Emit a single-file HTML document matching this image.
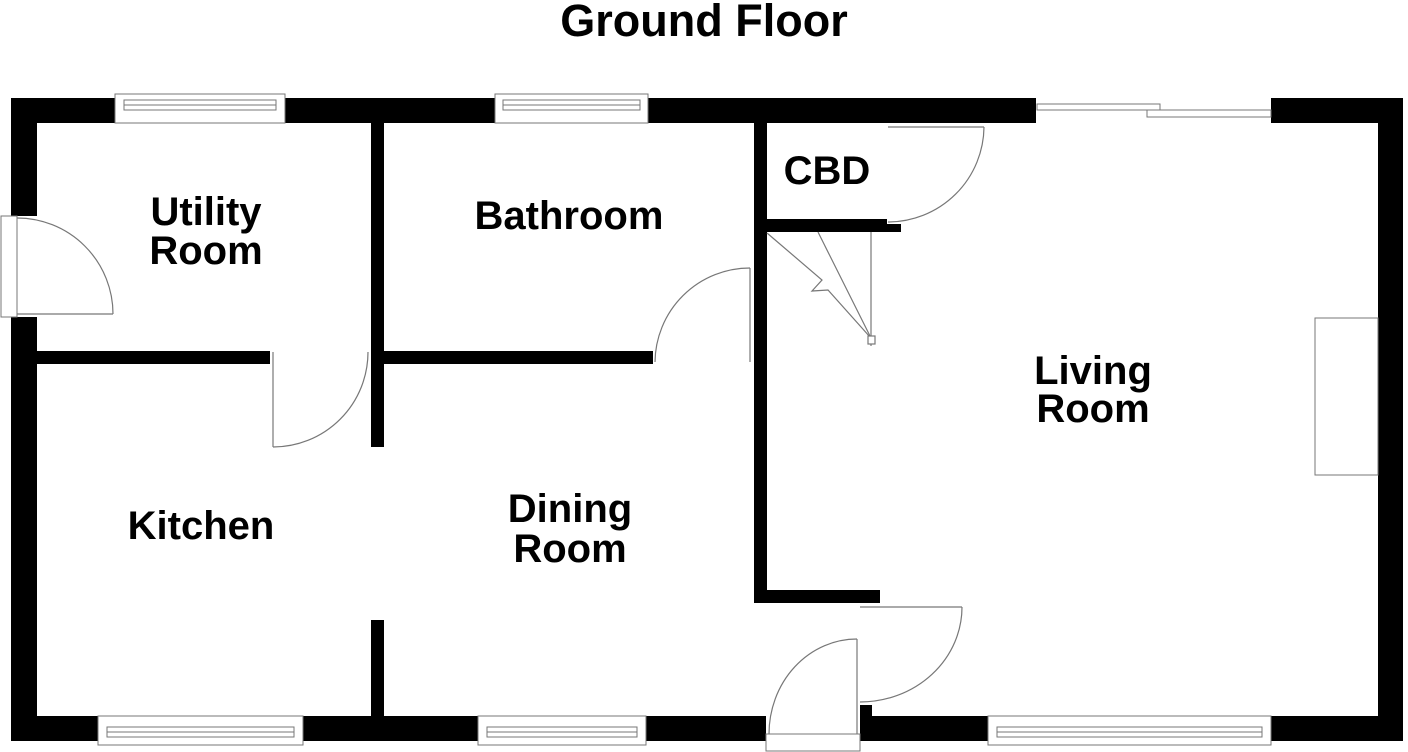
<!DOCTYPE html>
<html><head><meta charset="utf-8"><style>
html,body{margin:0;padding:0;background:#fff;}
svg{display:block;}
text{font-family:"Liberation Sans",Arial,sans-serif;font-weight:bold;fill:#000;}
</style></head><body>
<svg width="1408" height="752" viewBox="0 0 1408 752" xmlns="http://www.w3.org/2000/svg">
<text x="704" y="36" font-size="45" text-anchor="middle">Ground Floor</text>

<g fill="#000">
<!-- top wall -->
<rect x="11" y="98" width="104" height="25"/>
<rect x="285" y="98" width="210" height="25"/>
<rect x="648" y="98" width="388" height="25"/>
<rect x="1271" y="98" width="132" height="25"/>
<!-- left wall -->
<rect x="11" y="98" width="26" height="118"/>
<rect x="11" y="317" width="26" height="424"/>
<!-- right wall -->
<rect x="1378" y="98" width="25" height="643"/>
<!-- bottom wall -->
<rect x="11" y="716" width="87" height="25"/>
<rect x="303" y="716" width="175" height="25"/>
<rect x="646" y="716" width="120" height="25"/>
<rect x="860" y="716" width="128" height="25"/>
<rect x="860" y="705" width="12" height="12"/>
<rect x="1271" y="716" width="132" height="25"/>
<!-- interior -->
<rect x="37" y="351" width="233" height="13"/>
<rect x="371" y="123" width="13" height="324"/>
<rect x="384" y="351" width="269" height="13"/>
<rect x="371" y="620" width="13" height="96"/>
<rect x="754" y="123" width="13" height="480"/>
<rect x="754" y="590" width="126" height="13"/>
<rect x="767" y="219" width="120" height="13"/>
<rect x="887" y="224" width="14" height="8"/>
</g>

<g fill="#fff" stroke="#777" stroke-width="1">
<!-- top windows -->
<rect x="115" y="94" width="170" height="29"/>
<rect x="124" y="100" width="152" height="10"/>
<line x1="124" y1="105" x2="276" y2="105"/>
<rect x="495" y="94" width="153" height="29"/>
<rect x="503" y="100" width="137" height="10"/>
<line x1="503" y1="105" x2="640" y2="105"/>
<!-- patio -->
<rect x="1037" y="104" width="123" height="6"/>
<rect x="1147" y="110" width="124" height="7"/>
<!-- bottom windows -->
<rect x="98" y="716" width="205" height="29"/>
<rect x="107" y="727" width="187" height="10"/>
<line x1="107" y1="732" x2="294" y2="732"/>
<rect x="478" y="716" width="168" height="29"/>
<rect x="487" y="727" width="150" height="10"/>
<line x1="487" y1="732" x2="637" y2="732"/>
<rect x="988" y="716" width="283" height="29"/>
<rect x="981" y="727" width="0" height="0"/>
<rect x="997" y="727" width="265" height="10"/>
<line x1="997" y1="732" x2="1262" y2="732"/>
<!-- door frames -->
<rect x="1" y="216" width="16" height="101"/>
<rect x="766" y="734" width="94" height="17"/>
<!-- fireplace -->
<rect x="1315" y="318" width="63" height="157"/>
</g>

<g fill="none" stroke="#777" stroke-width="1.2">
<!-- utility outer door -->
<line x1="17" y1="314" x2="113" y2="314"/>
<path d="M17 218 A96 96 0 0 1 113 314"/>
<!-- kitchen/utility door -->
<line x1="273" y1="352" x2="273" y2="447"/>
<path d="M273 447 A95 95 0 0 0 368 352"/>
<!-- bathroom door -->
<line x1="750" y1="268" x2="750" y2="362"/>
<path d="M655 362 A95 95 0 0 1 750 268"/>
<!-- CBD door -->
<line x1="888" y1="127" x2="984" y2="127"/>
<path d="M984 127 A96 96 0 0 1 888 222"/>
<!-- stairs -->
<polyline points="767,233 822,280 812,291 828,290 870,337"/>
<line x1="818" y1="232" x2="870" y2="336"/>
<line x1="871" y1="232" x2="871" y2="346"/>
<rect x="868" y="336" width="7" height="8" fill="#fff"/>
<!-- front door -->
<line x1="857" y1="639" x2="857" y2="734"/>
<path d="M769 734 A88 95 0 0 1 857 639"/>
<!-- living room door -->
<line x1="860" y1="607" x2="962" y2="607"/>
<path d="M962 607 A102 95 0 0 1 860 702"/>
</g>

<g font-size="40" text-anchor="middle">
<text x="206" y="225">Utility</text>
<text x="206" y="264">Room</text>
<text x="569" y="229">Bathroom</text>
<text x="827" y="184">CBD</text>
<text x="1093" y="384">Living</text>
<text x="1093" y="422">Room</text>
<text x="201" y="539">Kitchen</text>
<text x="570" y="522">Dining</text>
<text x="570" y="562">Room</text>
</g>
</svg>
</body></html>
